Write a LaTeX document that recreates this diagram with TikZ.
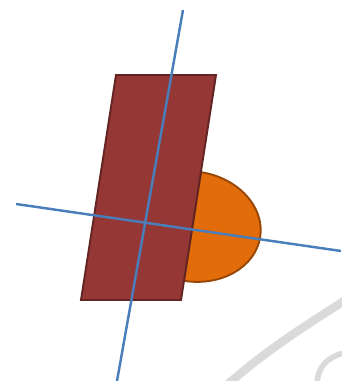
\documentclass[tikz,border=0pt]{standalone}
\usepackage{tikz}
\usetikzlibrary{calc}
\usepackage{xcolor}
\definecolor{slabred}{RGB}{149,55,53}
\definecolor{slabedge}{RGB}{99,37,35}
\definecolor{capfill}{RGB}{227,108,10}
\definecolor{capedge}{RGB}{152,72,6}
\definecolor{axisblue}{RGB}{74,126,187}
\definecolor{smudge}{RGB}{218,218,218}
\begin{document}
\begin{tikzpicture}[x=0.02cm, y=0.02cm, axisline/.style={axisblue, line width=1.4pt}]
        \useasboundingbox (0,0) rectangle (341,381);
        % faint ring in the corner
        \draw[smudge, line width=4.8pt] (228,-3) .. controls (266,30) and (300,52) .. (344,80);
        \draw[smudge, line width=3.2pt] (317,-2) .. controls (318,14) and (327,24) .. (344,28);
        % half disc on the right edge
        \begin{scope}[shift={(192.5,154.5)}, rotate=-8.9]
          \draw[capedge, fill=capfill, line width=1.1pt] (0,55) arc[start angle=90, end angle=-90, x radius=68.5, y radius=55] -- cycle;
        \end{scope}
        % slab
        \draw[slabedge, fill=slabred, line width=1.1pt] (116,306) -- (216,306) -- (181,81) -- (81,81) -- cycle;
        % axes
        \draw[axisline] (183,371) -- (117,0);
        \draw[axisline] (16,177) -- (341,130);
      \end{tikzpicture}
\end{document}
